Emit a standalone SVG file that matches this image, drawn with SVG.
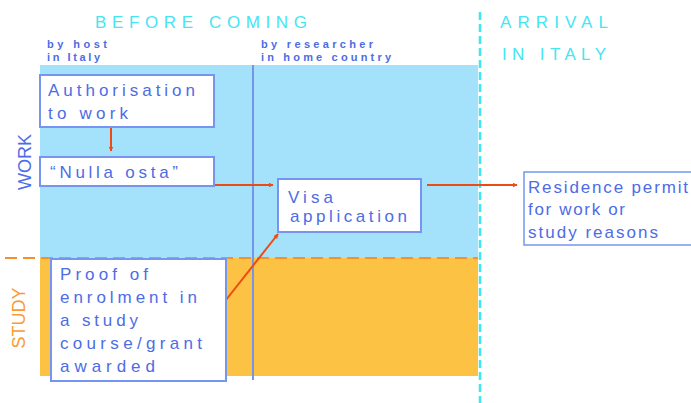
<svg xmlns="http://www.w3.org/2000/svg" width="691" height="403" viewBox="0 0 691 403">
<defs>
<style>
.t{font-family:"Liberation Sans",Arial,sans-serif;fill:#4d6ce6;font-size:17px}
.s{font-family:"Liberation Sans",Arial,sans-serif;fill:#4d6ce6;font-size:11px;font-weight:bold}
.h{font-family:"Liberation Sans",Arial,sans-serif;fill:#44e6f2;font-size:17px}
.box{fill:#ffffff;stroke:#7595f0;stroke-width:2}
.ar{stroke:#ee4b14;stroke-width:2;fill:none}
</style>
<marker id="ah" viewBox="0 0 10 10" refX="9" refY="5" markerWidth="5" markerHeight="5" orient="auto" markerUnits="userSpaceOnUse">
<path d="M0,0 L10,5 L0,10 z" fill="#ee4b14"/>
</marker>
</defs>
<rect width="691" height="403" fill="#ffffff"/>
<rect x="40" y="65" width="438" height="193" fill="#a3e2fa"/>
<rect x="40" y="258" width="438" height="118" fill="#fcc244"/>
<line x1="253" y1="65" x2="253" y2="380" stroke="#7595e8" stroke-width="2"/>
<line x1="5" y1="258" x2="478" y2="258" stroke="#f7902a" stroke-width="2" stroke-dasharray="12,6"/>
<line x1="480" y1="12" x2="480" y2="403" stroke="#3ee6f0" stroke-width="2.5" stroke-dasharray="8,4"/>
<text class="h" x="95" y="28" textLength="212" lengthAdjust="spacing">BEFORE COMING</text>
<text class="h" x="500" y="28" textLength="108" lengthAdjust="spacing">ARRIVAL</text>
<text class="h" x="502" y="60" textLength="104" lengthAdjust="spacing">IN ITALY</text>
<text class="s" x="47" y="48" textLength="60" lengthAdjust="spacing">by host</text>
<text class="s" x="47" y="61" textLength="53" lengthAdjust="spacing">in Italy</text>
<text class="s" x="261" y="48" textLength="112" lengthAdjust="spacing">by researcher</text>
<text class="s" x="261" y="61" textLength="130" lengthAdjust="spacing">in home country</text>
<text class="t" transform="translate(31,162) rotate(-90)" text-anchor="middle" style="fill:#4d6ce6;font-size:18px">WORK</text>
<text class="t" transform="translate(25,318) rotate(-90)" text-anchor="middle" style="fill:#fb9a35;font-size:18px">STUDY</text>
<g id="connectors">
<line class="ar" x1="111" y1="127" x2="111" y2="151" marker-end="url(#ah)"/>
<polyline class="ar" points="214,185 273,185" marker-end="url(#ah)"/>
<line class="ar" x1="427" y1="185" x2="517" y2="185" marker-end="url(#ah)"/>
<line class="ar" x1="222" y1="305" x2="278" y2="234" marker-end="url(#ah)"/>
</g>
<g id="authorisation">
<rect class="box" x="40" y="75" width="174" height="52"/>
<text class="t" x="48" y="96" textLength="147" lengthAdjust="spacing">Authorisation</text>
<text class="t" x="48" y="119" textLength="80" lengthAdjust="spacing">to work</text>
</g>
<g id="nulla-osta">
<rect class="box" x="40" y="157" width="174" height="29"/>
<text class="t" x="50" y="178" textLength="128" lengthAdjust="spacing">“Nulla osta”</text>
</g>
<g id="visa">
<rect class="box" x="278" y="179" width="143" height="53"/>
<text class="t" x="288" y="203" textLength="45" lengthAdjust="spacing">Visa</text>
<text class="t" x="290" y="222" textLength="117" lengthAdjust="spacing">application</text>
</g>
<g id="residence">
<rect class="box" x="524" y="172" width="180" height="73" style="stroke-width:1.5"/>
<text class="t" x="528" y="193" textLength="160" lengthAdjust="spacing">Residence permit</text>
<text class="t" x="528" y="215" textLength="97" lengthAdjust="spacing">for work or</text>
<text class="t" x="528" y="238" textLength="130" lengthAdjust="spacing">study reasons</text>
</g>
<g id="proof">
<rect class="box" x="51" y="259" width="175" height="122"/>
<text class="t" x="60" y="280" textLength="88" lengthAdjust="spacing">Proof of</text>
<text class="t" x="60" y="303" textLength="137" lengthAdjust="spacing">enrolment in</text>
<text class="t" x="60" y="326" textLength="78" lengthAdjust="spacing">a study</text>
<text class="t" x="60" y="349" textLength="142" lengthAdjust="spacing">course/grant</text>
<text class="t" x="60" y="372" textLength="95" lengthAdjust="spacing">awarded</text>
</g>
</svg>
